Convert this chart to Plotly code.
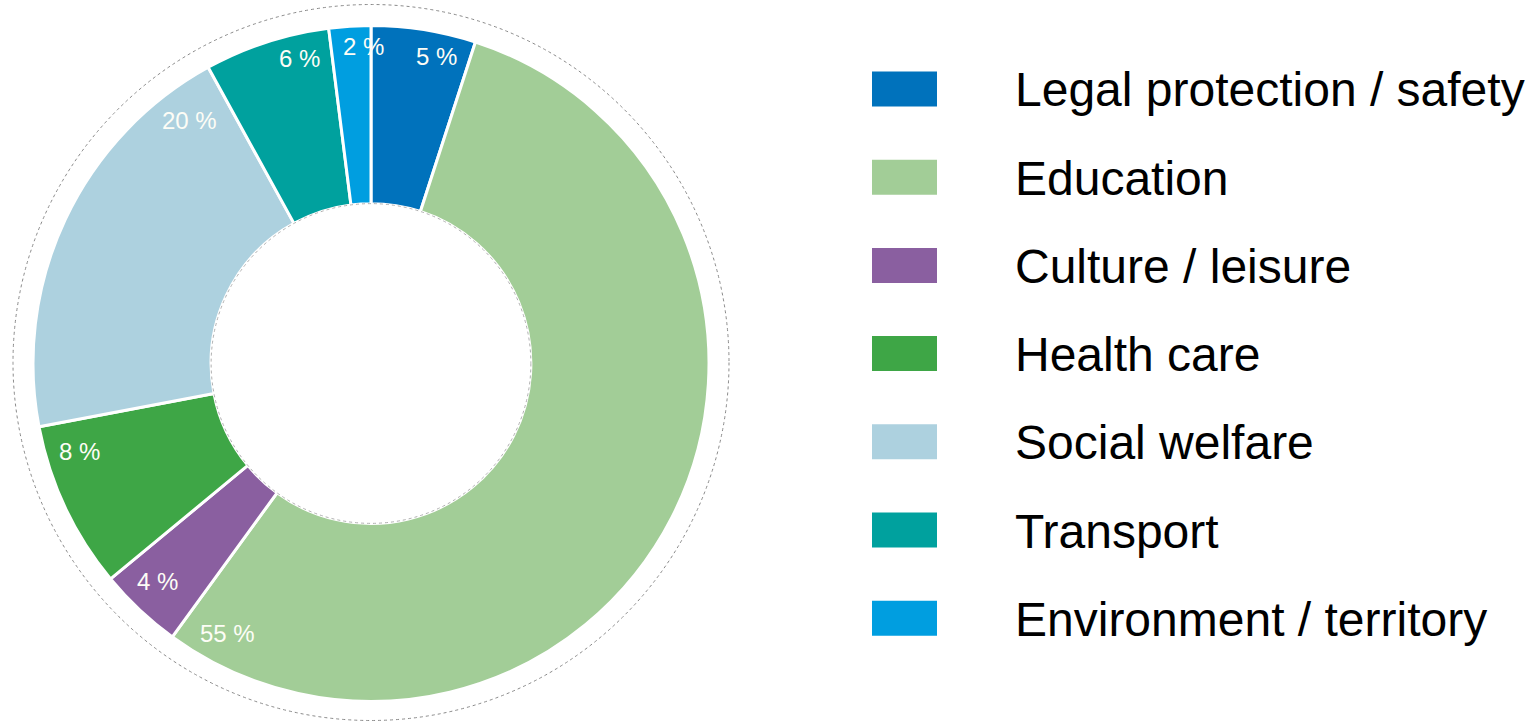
import math
import plotly.graph_objects as go

# ---- data ----
categories = ["Legal protection / safety", "Education", "Culture / leisure",
              "Health care", "Social welfare", "Transport", "Environment / territory"]
shares = [5, 55, 4, 8, 20, 6, 2]
colors = ["#0072BC", "#A2CD97", "#8A5FA0", "#3EA646", "#ADD1DF", "#00A19E", "#009EE0"]
label_texts = [f"{v} %" for v in shares]

# ---- layout constants (pixels) ----
W, H = 1534, 721
CX, CY = 371, 363.5        # pie centre
R_OUT = 338                # pie outer radius
HOLE = 0.473
R_CORNER = 326             # outer corner of label box sits on this radius
RING_R = 358
LABEL_SIZE = 24

def px(x):
    return x / W

def py(y):
    return 1 - y / H

fig = go.Figure()
fig.add_trace(go.Pie(
    labels=categories, values=shares, sort=False, direction="clockwise", rotation=0,
    hole=HOLE, textinfo="none", hoverinfo="label+percent",
    marker=dict(colors=colors, line=dict(color="white", width=3)),
    domain=dict(x=[px(CX - R_OUT), px(CX + R_OUT)], y=[py(CY + R_OUT), py(CY - R_OUT)]),
    showlegend=False,
))

annotations = []
# slice labels, placed near the outer edge toward the clockwise end of each slice
total = sum(shares)
cum = 0
for v, t in zip(shares, label_texts):
    start = cum / total * 360
    cum += v
    end = cum / total * 360
    span = end - start
    nd = len(str(v))
    off = min(4 + 2 * nd, max(span - 5.8, span * 0.2))
    ang = math.radians(end - off)
    ox, oy = math.sin(ang), -math.cos(ang)          # outward unit vector (screen)
    hw = (0.556 * nd + 0.25 + 0.889) * LABEL_SIZE / 2
    hh = 8.5
    proj = abs(ox) * hw + abs(oy) * hh
    r = R_CORNER - proj
    x = CX + r * ox
    y = CY + r * oy
    annotations.append(dict(x=px(x), y=py(y), xref="paper", yref="paper", text=t,
                            showarrow=False, xanchor="center", yanchor="middle",
                            font=dict(family="Liberation Sans, Arial", size=LABEL_SIZE,
                                      color="#fdfdf6")))

# custom legend
shapes = []
row0, step = 89, 88.2
for i, (c, name) in enumerate(zip(colors, categories)):
    yc = row0 + i * step
    shapes.append(dict(type="rect", xref="paper", yref="paper",
                       x0=px(872), x1=px(937), y0=py(yc - 17.5), y1=py(yc + 17.5),
                       fillcolor=c, line=dict(width=0)))
    annotations.append(dict(x=px(1013), y=py(yc + 1), xref="paper", yref="paper", text=name,
                            showarrow=False, xanchor="left", yanchor="middle",
                            font=dict(family="Liberation Sans, Arial", size=48, color="black")))

# thin outer ring and hole edge
shapes.append(dict(type="circle", xref="paper", yref="paper",
                   x0=px(CX - RING_R), x1=px(CX + RING_R), y0=py(CY + RING_R - 1), y1=py(CY - RING_R - 1),
                   line=dict(color="#8a8a8a", width=1, dash="dot"), layer="below"))
RH = R_OUT * HOLE
shapes.append(dict(type="circle", xref="paper", yref="paper",
                   x0=px(CX - RH), x1=px(CX + RH), y0=py(CY + RH), y1=py(CY - RH),
                   line=dict(color="#b0b0b0", width=1, dash="dot")))

fig.update_layout(width=W, height=H, margin=dict(l=0, r=0, t=0, b=0),
                  paper_bgcolor="white", plot_bgcolor="white",
                  shapes=shapes, annotations=annotations)
fig.write_html("out.html", config={"displayModeBar": False},
               post_script="document.body.style.margin='0';document.body.style.overflow='hidden';")
